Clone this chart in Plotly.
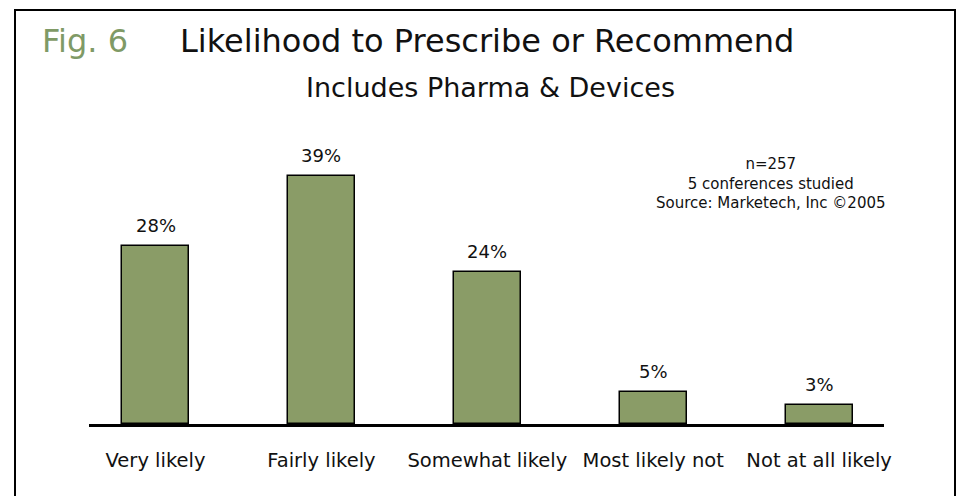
import plotly.graph_objects as go

# Survey responses: likelihood to prescribe or recommend
categories = ["Very likely", "Fairly likely", "Somewhat likely", "Most likely not", "Not at all likely"]
shares = [28, 39, 24, 5, 3]
value_labels = [f"{v}%" for v in shares]

fig_number = "Fig. 6"
title_text = "Likelihood to Prescribe or Recommend"
subtitle_text = "Includes Pharma & Devices"
note_lines = ["n=257", "5 conferences studied", "Source: Marketech, Inc ©2005"]

W, H = 957, 496
L, R, T, B = 89, 73, 138, 72
PW, PH = W - L - R, H - T - B

FONT = "Verdana, DejaVu Sans, sans-serif"
BAR_FILL = "#8a9c67"
FIG_GREEN = "#7f9a66"


def px_x(px):
    return (px - L) / PW


def px_y(py):
    return (H - B - py) / PH


fig = go.Figure(
    go.Bar(
        x=categories,
        y=shares,
        width=0.404,
        marker=dict(color=BAR_FILL, line=dict(color="#000000", width=1.5)),
        hoverinfo="x+y",
    )
)

annotations = []
for cat, val, lab in zip(categories, shares, value_labels):
    annotations.append(dict(
        x=cat, y=val, xref="x", yref="y", text=lab, showarrow=False,
        yanchor="bottom", yshift=8, font=dict(family=FONT, size=18, color="#111111"),
    ))

annotations += [
    dict(x=px_x(40), y=px_y(41), xref="paper", yref="paper", text=fig_number,
         showarrow=False, xanchor="left", yanchor="middle",
         font=dict(family=FONT, size=32, color=FIG_GREEN)),
    dict(x=px_x(487), y=px_y(41), xref="paper", yref="paper", text=title_text,
         showarrow=False, xanchor="center", yanchor="middle",
         font=dict(family=FONT, size=32, color="#111111")),
    dict(x=px_x(490), y=px_y(87), xref="paper", yref="paper", text=subtitle_text,
         showarrow=False, xanchor="center", yanchor="middle",
         font=dict(family=FONT, size=27, color="#111111")),
    dict(x=px_x(771), y=px_y(183), xref="paper", yref="paper",
         text="<br>".join(note_lines), showarrow=False,
         xanchor="center", yanchor="middle", align="center",
         font=dict(family=FONT, size=15, color="#111111")),
]

fig.update_layout(
    width=W, height=H,
    margin=dict(l=L, r=R, t=T, b=B, pad=0),
    paper_bgcolor="#ffffff", plot_bgcolor="#ffffff",
    showlegend=False,
    bargap=0,
    annotations=annotations,
    shapes=[dict(
        type="rect", xref="paper", yref="paper",
        x0=px_x(15), x1=px_x(955), y0=px_y(520), y1=px_y(10),
        line=dict(color="#000000", width=2), fillcolor="rgba(0,0,0,0)", layer="below",
    )],
    xaxis=dict(
        type="category", range=[-0.401, 4.391],
        showline=True, linecolor="#000000", linewidth=3,
        showgrid=False, zeroline=False, ticks="",
        ticklabelstandoff=17,
        tickfont=dict(family=FONT, size=19.5, color="#111111"),
    ),
    yaxis=dict(
        range=[0, 45.04], visible=False, showgrid=False, zeroline=False,
    ),
)

fig.write_html("out.html")
